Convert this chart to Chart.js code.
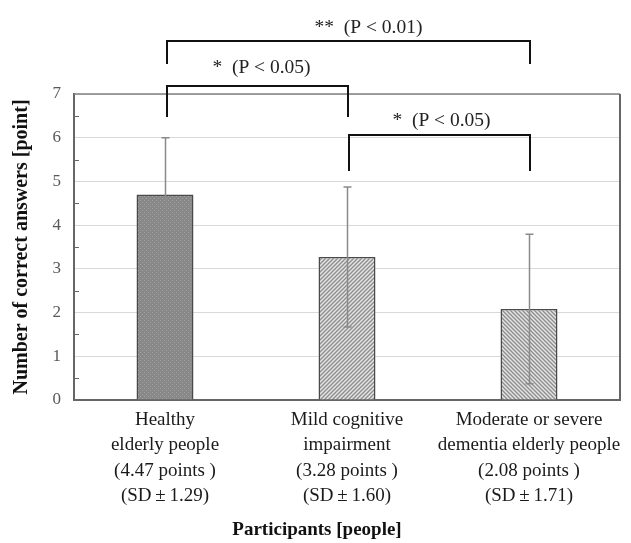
<!DOCTYPE html>
<html lang="en">
<head>
  <meta charset="UTF-8" />
  <title>Number of correct answers by participant group</title>
  <script src="https://cdn.jsdelivr.net/npm/chart.js@4.4.1/dist/chart.umd.min.js"></script>
  <style>
    html, body { margin: 0; padding: 0; background: #fff; }
    #wrap { width: 631px; height: 543px; }
  </style>
</head>
<body>
  <div id="wrap"><canvas id="c" width="631" height="543"></canvas></div>

  <script>
    const categories = [
      ['Healthy', 'elderly people', '(4.47 points )', '(SD\u2009\u00b1\u20091.29)'],
      ['Mild cognitive', 'impairment', '(3.28 points )', '(SD\u2009\u00b1\u20091.60)'],
      ['Moderate or severe', 'dementia elderly people', '(2.08 points )', '(SD\u2009\u00b1\u20091.71)']
    ];
    const means = [4.70, 3.27, 2.08];
    const sds = [1.30, 1.60, 1.71];
    const yMin = 0, yMax = 7, yStep = 1;

    // significance brackets: which bars, and the text above them
    const pairsFrom = [0, 1, 0];
    const pairsTo = [1, 2, 2];
    const pairLabels = ['*  (P < 0.05)', '*  (P < 0.05)', '**  (P < 0.01)'];

    // bracket drawing geometry (pixels), same order as the pairs
    const bracketGeom = [
      { bar: 86, leg: 117, textDy: 18, textDx: 4 },
      { bar: 135, leg: 171, textDy: 14, textDx: 2 },
      { bar: 41, leg: 64, textDy: 13, textDx: 20 }
    ];

    const SERIF = '"Liberation Serif", "Times New Roman", serif';
    const canvas = document.getElementById('c');
    const ctx = canvas.getContext('2d');

    function makePattern(kind) {
      const t = document.createElement('canvas');
      t.width = 4; t.height = 4;
      const g = t.getContext('2d');
      if (kind === 'dots') {
        g.fillStyle = '#888888';
        g.fillRect(0, 0, 4, 4);
        g.fillStyle = '#a2a2a2';
        g.fillRect(0, 0, 1, 1);
        g.fillRect(2, 2, 1, 1);
      } else {
        g.fillStyle = '#e4e4e4';
        g.fillRect(0, 0, 4, 4);
        g.strokeStyle = '#8c8c8c';
        g.lineWidth = 1.3;
        g.beginPath();
        if (kind === 'fwd') {
          g.moveTo(0, 4); g.lineTo(4, 0);
          g.moveTo(-1, 1); g.lineTo(1, -1);
          g.moveTo(3, 5); g.lineTo(5, 3);
        } else {
          g.moveTo(0, 0); g.lineTo(4, 4);
          g.moveTo(3, -1); g.lineTo(5, 1);
          g.moveTo(-1, 3); g.lineTo(1, 5);
        }
        g.stroke();
      }
      return ctx.createPattern(t, 'repeat');
    }

    const overlay = {
      id: 'overlay',
      afterDatasetsDraw(chart) {
        const { ctx, chartArea: a, scales: { x, y } } = chart;
        ctx.save();

        // little inward ticks at the half points
        ctx.strokeStyle = '#666';
        ctx.lineWidth = 1;
        for (let v = yMin + yStep / 2; v < yMax; v += yStep) {
          const py = Math.round(y.getPixelForValue(v)) + 0.5;
          ctx.beginPath();
          ctx.moveTo(a.left, py);
          ctx.lineTo(a.left + 5, py);
          ctx.stroke();
        }

        // error bars
        ctx.strokeStyle = '#8a8a8a';
        ctx.lineWidth = 1.5;
        means.forEach((m, i) => {
          const px = Math.round(x.getPixelForValue(i)) + 0.5;
          const top = y.getPixelForValue(m + sds[i]);
          const bot = y.getPixelForValue(m - sds[i]);
          ctx.beginPath();
          ctx.moveTo(px, top); ctx.lineTo(px, bot);
          ctx.moveTo(px - 4, top); ctx.lineTo(px + 4, top);
          ctx.moveTo(px - 4, bot); ctx.lineTo(px + 4, bot);
          ctx.stroke();
        });

        // plot frame top and right
        ctx.strokeStyle = '#808080';
        ctx.lineWidth = 1.5;
        ctx.beginPath();
        ctx.moveTo(a.left, a.top); ctx.lineTo(a.right, a.top);
        ctx.stroke();
        ctx.strokeStyle = '#666';
        ctx.lineWidth = 2;
        ctx.beginPath();
        ctx.moveTo(a.right, a.top); ctx.lineTo(a.right, a.bottom);
        ctx.stroke();

        // significance brackets
        ctx.strokeStyle = '#111';
        ctx.lineWidth = 2;
        ctx.fillStyle = '#222';
        ctx.font = '19.5px ' + SERIF;
        ctx.textAlign = 'center';
        ctx.textBaseline = 'middle';
        pairsFrom.forEach((f, k) => {
          const g = bracketGeom[k];
          const x1 = x.getPixelForValue(f) + 2;
          const x2 = x.getPixelForValue(pairsTo[k]) + 1;
          ctx.beginPath();
          ctx.moveTo(x1, g.leg);
          ctx.lineTo(x1, g.bar);
          ctx.lineTo(x2, g.bar);
          ctx.lineTo(x2, g.leg);
          ctx.stroke();
          ctx.fillText(pairLabels[k], (x1 + x2) / 2 + g.textDx, g.bar - g.textDy);
        });

        // x axis title, set a little left of the plot centre as in the source
        ctx.fillStyle = '#111';
        ctx.font = 'bold 19px ' + SERIF;
        ctx.fillText('Participants [people]', (a.left + a.right) / 2 - 30, 530);

        ctx.restore();
      }
    };

    new Chart(ctx, {
      type: 'bar',
      data: {
        labels: categories,
        datasets: [{
          data: means,
          backgroundColor: [makePattern('dots'), makePattern('fwd'), makePattern('back')],
          borderColor: '#4a4a4a',
          borderWidth: 1.5,
          categoryPercentage: 1,
          barPercentage: 0.313
        }]
      },
      options: {
        responsive: false,
        animation: false,
        devicePixelRatio: 1,
        layout: { padding: { top: 94, right: 11, left: 0, bottom: 0 } },
        plugins: {
          legend: { display: false },
          tooltip: { enabled: false }
        },
        scales: {
          y: {
            min: yMin,
            max: yMax,
            ticks: {
              stepSize: yStep,
              padding: 13,
              color: '#595959',
              font: { family: SERIF, size: 17 }
            },
            grid: { color: '#d9d9d9', lineWidth: 1, drawTicks: false },
            border: { color: '#666', width: 2 },
            title: {
              display: true,
              text: 'Number of correct answers [point]',
              color: '#111',
              font: { family: SERIF, size: 20, weight: 'bold' },
              padding: { top: 10, bottom: 0 }
            },
            afterFit(s) { s.width = 74; }
          },
          x: {
            grid: { display: false, drawTicks: false },
            border: { color: '#666', width: 2 },
            ticks: {
              padding: 7,
              color: '#1a1a1a',
              maxRotation: 0,
              autoSkip: false,
              font: { family: SERIF, size: 19, lineHeight: 1.34 }
            },
            afterFit(s) {
              s.height = 143;
              s.paddingLeft = 0;
              s.paddingRight = 0;
            }
          }
        }
      },
      plugins: [overlay]
    });
  </script>
</body>
</html>
